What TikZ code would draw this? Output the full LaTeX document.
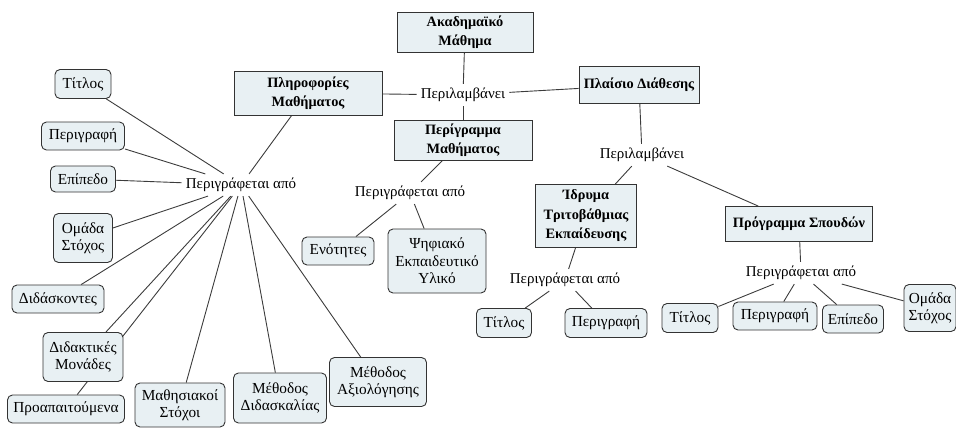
\documentclass[tikz,border=0pt]{standalone}
\usepackage{fontspec}
\setmainfont{Liberation Serif}
\usetikzlibrary{backgrounds}
\definecolor{boxfill}{HTML}{E8F0F3}
\definecolor{edge}{HTML}{333333}
\definecolor{conn}{HTML}{3C3C3C}
\begin{document}
\begin{tikzpicture}[x=1pt,y=-1pt,
  concept/.style={draw=edge,line width=0.9pt,fill=boxfill,align=center,inner sep=1pt,
    font=\fontsize{14.3}{19.5}\selectfont\bfseries},
  leaf/.style={draw=edge,line width=0.9pt,fill=boxfill,rounded corners=5pt,align=center,inner sep=1pt,
    font=\fontsize{15.3}{17.5}\selectfont},
  lbl/.style={inner sep=4pt,font=\fontsize{15}{17}\selectfont},
  conline/.style={draw=conn,line width=0.9pt}]
\path[use as bounding box] (0,0) rectangle (956,428);
% concepts
\node[concept,minimum width=136pt,minimum height=40pt] (ak) at (465,32) {Ακαδημαϊκό\\Μάθημα};
\node[concept,minimum width=148pt,minimum height=44pt] (plir) at (308,93) {Πληροφορίες\\Μαθήματος};
\node[concept,minimum width=138pt,minimum height=40pt] (perig) at (463,140) {Περίγραμμα\\Μαθήματος};
\node[concept,minimum width=120pt,minimum height=37pt] (plaisio) at (639,85) {Πλαίσιο Διάθεσης};
\node[concept,minimum width=101pt,minimum height=63pt] (idr) at (586,216) {Ίδρυμα\\Τριτοβάθμιας\\Εκπαίδευσης};
\node[concept,minimum width=147pt,minimum height=35pt] (prog) at (799,224) {Πρόγραμμα Σπουδών};
% link labels
\node[lbl] (inc1) at (463,95) {Περιλαμβάνει};
\node[lbl] (inc2) at (642,155) {Περιλαμβάνει};
\node[lbl] (desc1) at (241,185) {Περιγράφεται από};
\node[lbl] (desc2) at (410,193) {Περιγράφεται από};
\node[lbl] (desc3) at (565,280) {Περιγράφεται από};
\node[lbl] (desc4) at (801,273) {Περιγράφεται από};
% left leaves
\node[leaf,minimum width=56pt,minimum height=29pt] (t1) at (83,84) {Τίτλος};
\node[leaf,minimum width=83pt,minimum height=28pt] (p1) at (83,136) {Περιγραφή};
\node[leaf,minimum width=65pt,minimum height=26pt] (e1) at (83,179) {Επίπεδο};
\node[leaf,minimum width=59pt,minimum height=49pt] (o1) at (83,238) {Ομάδα\\Στόχος};
\node[leaf,minimum width=92pt,minimum height=28pt] (d1) at (58,299) {Διδάσκοντες};
\node[leaf,minimum width=80pt,minimum height=49pt] (dm1) at (83,357) {Διδακτικές\\Μονάδες};
\node[leaf,minimum width=117pt,minimum height=28pt] (pr1) at (66,409) {Προαπαιτούμενα};
\node[leaf,minimum width=90pt,minimum height=44pt] (ms1) at (180,405) {Μαθησιακοί\\Στόχοι};
\node[leaf,minimum width=93pt,minimum height=50pt] (md1) at (280,398) {Μέθοδος\\Διδασκαλίας};
\node[leaf,minimum width=97pt,minimum height=49pt] (ma1) at (378,382) {Μέθοδος\\Αξιολόγησης};
% middle leaves
\node[leaf,minimum width=72pt,minimum height=28pt] (en2) at (338,251) {Ενότητες};
\node[leaf,minimum width=98pt,minimum height=64pt] (psi2) at (437,261) {Ψηφιακό\\Εκπαιδευτικό\\Υλικό};
% right leaves
\node[leaf,minimum width=55pt,minimum height=29pt] (t3) at (504,323) {Τίτλος};
\node[leaf,minimum width=82pt,minimum height=29pt] (p3) at (606,323) {Περιγραφή};
\node[leaf,minimum width=56pt,minimum height=29pt] (t4) at (690,318) {Τίτλος};
\node[leaf,minimum width=84pt,minimum height=28pt] (p4) at (775,316) {Περιγραφή};
\node[leaf,minimum width=61pt,minimum height=28pt] (e4) at (853,319) {Επίπεδο};
\node[leaf,minimum width=52pt,minimum height=47pt] (o4) at (930,308) {Ομάδα\\Στόχος};
% connectors
\begin{scope}[on background layer]
\draw[conline] (ak) -- (inc1);
\draw[conline] (inc1) -- (plir);
\draw[conline] (inc1) -- (perig);
\draw[conline] (inc1) -- (plaisio);
\draw[conline] (plir) -- (desc1);
\foreach \n in {t1,p1,e1,o1,d1,dm1,pr1,ms1,md1,ma1} \draw[conline] (desc1) -- (\n);
\draw[conline] (perig) -- (desc2);
\draw[conline] (desc2) -- (en2);
\draw[conline] (desc2) -- (psi2);
\draw[conline] (plaisio) -- (inc2);
\draw[conline] (inc2) -- (idr);
\draw[conline] (inc2) -- (prog);
\draw[conline] (idr) -- (desc3);
\draw[conline] (desc3) -- (t3);
\draw[conline] (desc3) -- (p3);
\draw[conline] (prog) -- (desc4);
\foreach \n in {t4,p4,e4,o4} \draw[conline] (desc4) -- (\n);
\end{scope}
\end{tikzpicture}
\end{document}
